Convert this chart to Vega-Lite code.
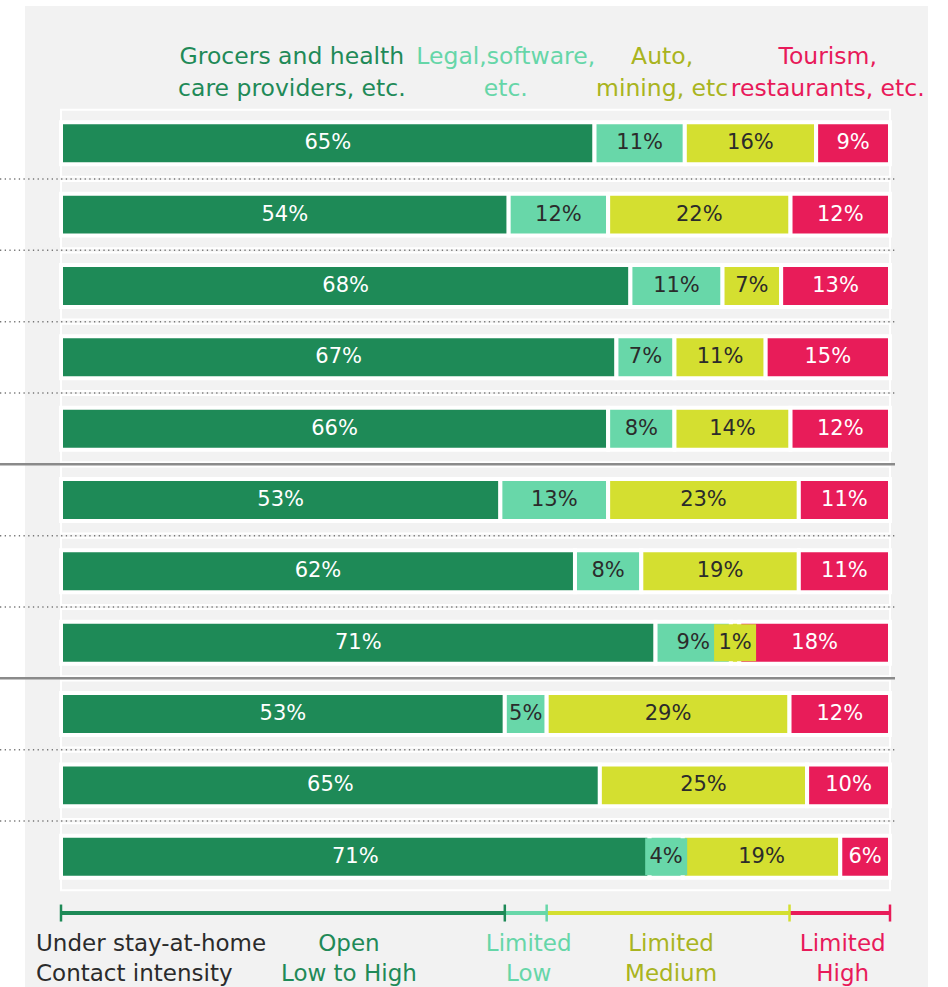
{
  "$schema": "https://vega.github.io/schema/vega-lite/v6.json",
  "width": 903,
  "height": 981,
  "padding": {"left": 25, "top": 6, "right": 20, "bottom": 0},
  "autosize": {"type": "none"},
  "background": "#ffffff",
  "view": {"fill": "#f2f2f2", "stroke": null},
  "config": {"font": "DejaVu Sans", "text": {"font": "DejaVu Sans"}},
  "datasets": {
    "cats": [
      {"ci": 1, "head": "Grocers and health\ncare providers, etc.", "leg": "Open\nLow to High"},
      {"ci": 2, "head": "Legal,software,\netc.", "leg": "Limited\nLow"},
      {"ci": 3, "head": "Auto,\nmining, etc", "leg": "Limited\nMedium"},
      {"ci": 4, "head": "Tourism,\nrestaurants, etc.", "leg": "Limited\nHigh"}
    ],
    "shares": [
      {"row": 1, "group": "A", "ci": 1, "cat": "Open", "pct": 65},
      {"row": 1, "group": "A", "ci": 2, "cat": "Limited Low", "pct": 11},
      {"row": 1, "group": "A", "ci": 3, "cat": "Limited Medium", "pct": 16},
      {"row": 1, "group": "A", "ci": 4, "cat": "Limited High", "pct": 9},
      {"row": 2, "group": "A", "ci": 1, "cat": "Open", "pct": 54},
      {"row": 2, "group": "A", "ci": 2, "cat": "Limited Low", "pct": 12},
      {"row": 2, "group": "A", "ci": 3, "cat": "Limited Medium", "pct": 22},
      {"row": 2, "group": "A", "ci": 4, "cat": "Limited High", "pct": 12},
      {"row": 3, "group": "A", "ci": 1, "cat": "Open", "pct": 68},
      {"row": 3, "group": "A", "ci": 2, "cat": "Limited Low", "pct": 11},
      {"row": 3, "group": "A", "ci": 3, "cat": "Limited Medium", "pct": 7},
      {"row": 3, "group": "A", "ci": 4, "cat": "Limited High", "pct": 13},
      {"row": 4, "group": "A", "ci": 1, "cat": "Open", "pct": 67},
      {"row": 4, "group": "A", "ci": 2, "cat": "Limited Low", "pct": 7},
      {"row": 4, "group": "A", "ci": 3, "cat": "Limited Medium", "pct": 11},
      {"row": 4, "group": "A", "ci": 4, "cat": "Limited High", "pct": 15},
      {"row": 5, "group": "A", "ci": 1, "cat": "Open", "pct": 66},
      {"row": 5, "group": "A", "ci": 2, "cat": "Limited Low", "pct": 8},
      {"row": 5, "group": "A", "ci": 3, "cat": "Limited Medium", "pct": 14},
      {"row": 5, "group": "A", "ci": 4, "cat": "Limited High", "pct": 12},
      {"row": 6, "group": "B", "ci": 1, "cat": "Open", "pct": 53},
      {"row": 6, "group": "B", "ci": 2, "cat": "Limited Low", "pct": 13},
      {"row": 6, "group": "B", "ci": 3, "cat": "Limited Medium", "pct": 23},
      {"row": 6, "group": "B", "ci": 4, "cat": "Limited High", "pct": 11},
      {"row": 7, "group": "B", "ci": 1, "cat": "Open", "pct": 62},
      {"row": 7, "group": "B", "ci": 2, "cat": "Limited Low", "pct": 8},
      {"row": 7, "group": "B", "ci": 3, "cat": "Limited Medium", "pct": 19},
      {"row": 7, "group": "B", "ci": 4, "cat": "Limited High", "pct": 11},
      {"row": 8, "group": "B", "ci": 1, "cat": "Open", "pct": 71},
      {"row": 8, "group": "B", "ci": 2, "cat": "Limited Low", "pct": 9},
      {"row": 8, "group": "B", "ci": 3, "cat": "Limited Medium", "pct": 1},
      {"row": 8, "group": "B", "ci": 4, "cat": "Limited High", "pct": 18},
      {"row": 9, "group": "C", "ci": 1, "cat": "Open", "pct": 53},
      {"row": 9, "group": "C", "ci": 2, "cat": "Limited Low", "pct": 5},
      {"row": 9, "group": "C", "ci": 3, "cat": "Limited Medium", "pct": 29},
      {"row": 9, "group": "C", "ci": 4, "cat": "Limited High", "pct": 12},
      {"row": 10, "group": "C", "ci": 1, "cat": "Open", "pct": 65},
      {"row": 10, "group": "C", "ci": 3, "cat": "Limited Medium", "pct": 25},
      {"row": 10, "group": "C", "ci": 4, "cat": "Limited High", "pct": 10},
      {"row": 11, "group": "C", "ci": 1, "cat": "Open", "pct": 71},
      {"row": 11, "group": "C", "ci": 2, "cat": "Limited Low", "pct": 4},
      {"row": 11, "group": "C", "ci": 3, "cat": "Limited Medium", "pct": 19},
      {"row": 11, "group": "C", "ci": 4, "cat": "Limited High", "pct": 6}
    ]
  },
  "data": {"name": "shares"},
  "transform": [
    {"stack": "pct", "groupby": ["row"], "sort": [{"field": "ci", "order": "ascending"}], "offset": "normalize", "as": ["x0", "x1"]},
    {"calculate": "(datum.x0 + datum.x1) / 2", "as": "xm"},
    {"calculate": "datum.pct + '%'", "as": "lbl"}
  ],
  "layer": [
    {
      "transform": [{"filter": "datum.ci == 1"}],
      "mark": {"type": "bar", "fill": "transparent", "stroke": "#ffffff", "strokeWidth": 2, "height": {"band": 1.6}},
      "encoding": {
        "x": {"datum": 0, "type": "quantitative", "scale": {"domain": [0, 1], "range": [36, 865], "nice": false, "zero": false}, "axis": null},
        "x2": {"datum": 1},
        "y": {"field": "row", "type": "ordinal", "scale": {"type": "band", "domain": [0, 1, 2, 3, 4, 5, 6, 7, 8, 9, 10, 11, 12], "range": [30.3, 957.7], "paddingInner": 0.412, "paddingOuter": 0.206}, "axis": null}
      }
    },
    {
      "transform": [
        {"filter": "datum.ci == 1"},
        {"window": [{"op": "lead", "field": "group", "as": "ng"}], "sort": [{"field": "row", "order": "ascending"}]},
        {"filter": "datum.ng != null"}
      ],
      "mark": {"type": "rule", "yOffset": 35.67},
      "encoding": {
        "x": {"datum": -0.0736, "type": "quantitative"},
        "x2": {"datum": 1.006},
        "y": {"field": "row", "type": "ordinal"},
        "color": {"condition": {"test": "datum.group === datum.ng", "value": "#777777"}, "value": "#8a8a8a"},
        "strokeDash": {"condition": {"test": "datum.group === datum.ng", "value": [1.3, 3.4]}, "value": [1, 0]},
        "strokeWidth": {"condition": {"test": "datum.group === datum.ng", "value": 1.5}, "value": 2.5}
      }
    },
    {
      "mark": {"type": "bar", "stroke": "#ffffff", "strokeWidth": 4},
      "encoding": {
        "x": {"field": "x0", "type": "quantitative"},
        "x2": {"field": "x1"},
        "y": {"field": "row", "type": "ordinal"},
        "color": {"field": "cat", "type": "nominal", "scale": {"domain": ["Open", "Limited Low", "Limited Medium", "Limited High"], "range": ["#1e8a57", "#68d7a9", "#d4df30", "#e81c59"]}, "legend": null}
      }
    },
    {
      "transform": [{"filter": "datum.pct <= 4"}],
      "mark": {"type": "tick", "orient": "vertical", "thickness": 42, "size": 37, "opacity": 1},
      "encoding": {
        "x": {"field": "xm", "type": "quantitative"},
        "y": {"field": "row", "type": "ordinal"},
        "color": {"field": "cat", "type": "nominal"}
      }
    },
    {
      "mark": {"type": "text", "fontSize": 21, "baseline": "middle"},
      "encoding": {
        "x": {"field": "xm", "type": "quantitative"},
        "y": {"field": "row", "type": "ordinal"},
        "text": {"field": "lbl"},
        "fill": {"condition": {"test": "datum.ci == 1 || datum.ci == 4", "value": "#ffffff"}, "value": "#2b2b2b"}
      }
    },
    {
      "transform": [
        {"filter": "datum.row == 9"},
        {"lookup": "ci", "from": {"data": {"name": "cats"}, "key": "ci", "fields": ["head", "leg"]}}
      ],
      "layer": [
        {
          "transform": [{"filter": "datum.ci == 1"}],
          "mark": {"type": "text", "fontSize": 23.5, "lineHeight": 32, "lineBreak": "\n", "baseline": "middle", "dy": -15, "dx": 9},
          "encoding": {
            "x": {"field": "xm", "type": "quantitative"},
            "y": {"datum": 0, "type": "ordinal"},
            "text": {"field": "head"},
            "fill": {"field": "cat", "type": "nominal", "scale": {"domain": ["Open", "Limited Low", "Limited Medium", "Limited High"], "range": ["#1f8a58", "#66d6a8", "#a9b420", "#e81a5a"]}, "legend": null}
          }
        },
        {
          "transform": [{"filter": "datum.ci == 2"}],
          "mark": {"type": "text", "fontSize": 23.5, "lineHeight": 32, "lineBreak": "\n", "baseline": "middle", "dy": -15, "dx": -20},
          "encoding": {
            "x": {"field": "xm", "type": "quantitative"},
            "y": {"datum": 0, "type": "ordinal"},
            "text": {"field": "head"},
            "fill": {"field": "cat", "type": "nominal"}
          }
        },
        {
          "transform": [{"filter": "datum.ci == 3"}],
          "mark": {"type": "text", "fontSize": 23.5, "lineHeight": 32, "lineBreak": "\n", "baseline": "middle", "dy": -15, "dx": -6},
          "encoding": {
            "x": {"field": "xm", "type": "quantitative"},
            "y": {"datum": 0, "type": "ordinal"},
            "text": {"field": "head"},
            "fill": {"field": "cat", "type": "nominal"}
          }
        },
        {
          "transform": [{"filter": "datum.ci == 4"}],
          "mark": {"type": "text", "fontSize": 23.5, "lineHeight": 32, "lineBreak": "\n", "baseline": "middle", "dy": -15, "dx": -12},
          "encoding": {
            "x": {"field": "xm", "type": "quantitative"},
            "y": {"datum": 0, "type": "ordinal"},
            "text": {"field": "head"},
            "fill": {"field": "cat", "type": "nominal"}
          }
        },
        {
          "mark": {"type": "rule", "strokeWidth": 4, "yOffset": -15},
          "encoding": {
            "x": {"field": "x0", "type": "quantitative"},
            "x2": {"field": "x1"},
            "y": {"datum": 12, "type": "ordinal"},
            "color": {"field": "cat", "type": "nominal"}
          }
        },
        {
          "mark": {"type": "tick", "orient": "vertical", "thickness": 2.5, "size": 17, "opacity": 1, "yOffset": -15},
          "encoding": {
            "x": {"field": "x1", "type": "quantitative"},
            "y": {"datum": 12, "type": "ordinal"},
            "color": {"field": "cat", "type": "nominal"}
          }
        },
        {
          "transform": [{"filter": "datum.ci == 1"}],
          "mark": {"type": "tick", "orient": "vertical", "thickness": 2.5, "size": 17, "opacity": 1, "yOffset": -15},
          "encoding": {
            "x": {"field": "x0", "type": "quantitative"},
            "y": {"datum": 12, "type": "ordinal"},
            "color": {"field": "cat", "type": "nominal"}
          }
        },
        {
          "transform": [{"filter": "datum.ci > 1"}],
          "mark": {"type": "text", "fontSize": 23, "lineHeight": 30, "lineBreak": "\n", "baseline": "middle", "dy": 16, "dx": 3},
          "encoding": {
            "x": {"field": "xm", "type": "quantitative"},
            "y": {"datum": 12, "type": "ordinal"},
            "text": {"field": "leg"},
            "fill": {"field": "cat", "type": "nominal"}
          }
        },
        {
          "transform": [{"filter": "datum.ci == 1"}],
          "mark": {"type": "text", "fontSize": 23, "lineHeight": 30, "lineBreak": "\n", "baseline": "middle", "dy": 16, "dx": 66},
          "encoding": {
            "x": {"field": "xm", "type": "quantitative"},
            "y": {"datum": 12, "type": "ordinal"},
            "text": {"field": "leg"},
            "fill": {"field": "cat", "type": "nominal"}
          }
        },
        {
          "transform": [{"filter": "datum.ci == 1"}],
          "mark": {"type": "text", "fontSize": 23, "lineHeight": 30, "lineBreak": "\n", "baseline": "middle", "align": "left", "dy": 16, "dx": -25},
          "encoding": {
            "x": {"datum": 0, "type": "quantitative"},
            "y": {"datum": 12, "type": "ordinal"},
            "text": {"value": "Under stay-at-home\nContact intensity"},
            "fill": {"value": "#2b2b2b"}
          }
        }
      ]
    }
  ]
}
